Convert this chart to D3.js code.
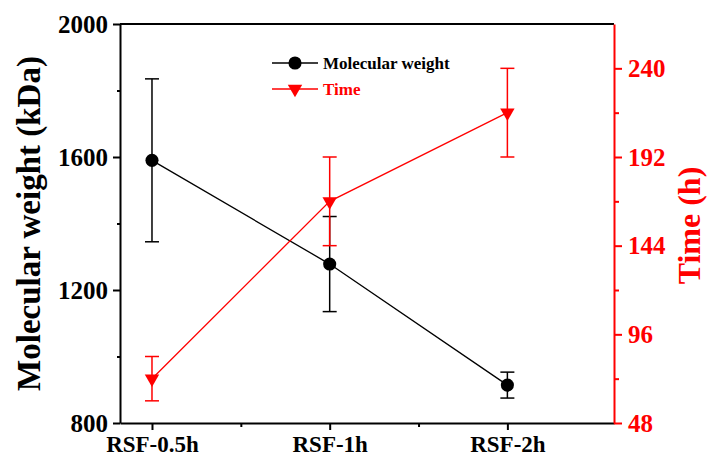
<!DOCTYPE html>
<html>
<head>
<meta charset="utf-8">
<script src="https://cdn.jsdelivr.net/npm/d3@7"></script>
<style>
  body { margin: 0; background: #fff; }
  text { font-family: "Liberation Serif", "Times New Roman", serif; font-weight: bold; }
</style>
</head>
<body>
<div id="chart"></div>
<script>
// Data
var categories = ["RSF-0.5h", "RSF-1h", "RSF-2h"];
var mwValues = [1590, 1278, 914];
var mwErrors = [245, 143, 39];
var timeValues = [72, 168, 216];
var timeErrors = [12, 24, 24];
var leftTicks = [800, 1200, 1600, 2000];
var leftMinor = [1000, 1400, 1800];
var rightTicks = [48, 96, 144, 192, 240];
var rightMinor = [72, 120, 168, 216];

var svgWidth = 707;
var svgHeight = 461;
var margin = { top: 24, right: 93, bottom: 38, left: 120 };
var chartWidth = svgWidth - margin.left - margin.right;
var chartHeight = svgHeight - margin.top - margin.bottom;

var svg = d3.select("#chart")
    .append("svg")
    .attr("width", svgWidth)
    .attr("height", svgHeight);

var g = svg.append("g")
    .attr("transform", `translate(${margin.left}, ${margin.top})`);

// scales
var xScale = d3.scaleLinear()
    .domain([-0.18, 2.6])
    .range([0, chartWidth]);

var yLeft = d3.scaleLinear()
    .domain([800, 2000])
    .range([chartHeight, 0]);

var yRight = d3.scaleLinear()
    .domain([48, 264])
    .range([chartHeight, 0]);

// frame top
g.append("line")
    .attr("x1", 0).attr("x2", chartWidth)
    .attr("y1", 0).attr("y2", 0)
    .attr("stroke", "black").attr("stroke-width", 2);

// x axis
var xAxis = g.append("g")
    .attr("transform", `translate(0, ${chartHeight})`)
    .call(d3.axisBottom(xScale)
        .tickValues([0, 1, 2])
        .tickFormat(i => categories[i])
        .tickSize(7)
        .tickSizeOuter(0)
        .tickPadding(6));
xAxis.select(".domain").attr("stroke-width", 2);
xAxis.selectAll(".tick line").attr("stroke-width", 2);
xAxis.selectAll(".tick text").attr("font-size", "23px").attr("fill", "black")
    .attr("font-family", "Liberation Serif");
g.append("g")
    .attr("transform", `translate(0, ${chartHeight})`)
    .call(d3.axisBottom(xScale).tickValues([0.5, 1.5]).tickSize(4).tickFormat(""))
    .call(a => a.select(".domain").remove())
    .selectAll(".tick line").attr("stroke-width", 2);

// left axis
var leftAxis = g.append("g")
    .call(d3.axisLeft(yLeft)
        .tickValues(leftTicks)
        .tickFormat(d3.format("d"))
        .tickSize(7)
        .tickSizeOuter(0)
        .tickPadding(5));
leftAxis.select(".domain").attr("stroke-width", 2);
leftAxis.selectAll(".tick line").attr("stroke-width", 2);
leftAxis.selectAll(".tick text").attr("font-size", "25px").attr("fill", "black")
    .attr("font-family", "Liberation Serif");
g.append("g")
    .call(d3.axisLeft(yLeft).tickValues(leftMinor).tickSize(3).tickFormat(""))
    .call(a => a.select(".domain").remove())
    .selectAll(".tick line").attr("stroke-width", 2);

// right axis
var rightAxis = g.append("g")
    .attr("transform", `translate(${chartWidth}, 0)`)
    .call(d3.axisRight(yRight)
        .tickValues(rightTicks)
        .tickSize(8)
        .tickSizeOuter(0)
        .tickPadding(6));
rightAxis.select(".domain").attr("stroke", "red").attr("stroke-width", 2);
rightAxis.selectAll(".tick line").attr("stroke", "red").attr("stroke-width", 2);
rightAxis.selectAll(".tick text").attr("font-size", "25px").attr("fill", "red")
    .attr("font-family", "Liberation Serif");
g.append("g")
    .attr("transform", `translate(${chartWidth}, 0)`)
    .call(d3.axisRight(yRight).tickValues(rightMinor).tickSize(5).tickFormat(""))
    .call(a => a.select(".domain").remove())
    .selectAll(".tick line").attr("stroke", "red").attr("stroke-width", 2);

// series helper
function drawSeries(values, errors, scale, color, symbol, size, rotate) {
    var line = d3.line()
        .x((d, i) => xScale(i))
        .y(d => scale(d));
    g.append("path")
        .datum(values)
        .attr("d", line)
        .attr("fill", "none")
        .attr("stroke", color)
        .attr("stroke-width", 1.3);

    var eb = g.selectAll(null)
        .data(values)
        .enter()
        .append("g")
        .attr("stroke", color)
        .attr("stroke-width", 1.5);
    eb.append("line")
        .attr("x1", (d, i) => xScale(i)).attr("x2", (d, i) => xScale(i))
        .attr("y1", (d, i) => scale(d - errors[i]))
        .attr("y2", (d, i) => scale(d + errors[i]));
    eb.append("line")
        .attr("x1", (d, i) => xScale(i) - 7).attr("x2", (d, i) => xScale(i) + 7)
        .attr("y1", (d, i) => scale(d + errors[i]))
        .attr("y2", (d, i) => scale(d + errors[i]));
    eb.append("line")
        .attr("x1", (d, i) => xScale(i) - 7).attr("x2", (d, i) => xScale(i) + 7)
        .attr("y1", (d, i) => scale(d - errors[i]))
        .attr("y2", (d, i) => scale(d - errors[i]));

    g.selectAll(null)
        .data(values)
        .enter()
        .append("path")
        .attr("d", d3.symbol().type(symbol).size(size))
        .attr("transform", (d, i) => `translate(${xScale(i)}, ${scale(d)}) rotate(${rotate})`)
        .attr("fill", color);
}

drawSeries(mwValues, mwErrors, yLeft, "black", d3.symbolCircle, 135, 0);
drawSeries(timeValues, timeErrors, yRight, "red", d3.symbolTriangle, 90, 180);

// legend
var legendItems = [
    { label: "Molecular weight", color: "black", symbol: d3.symbolCircle, size: 135, rotate: 0 },
    { label: "Time", color: "red", symbol: d3.symbolTriangle, size: 90, rotate: 180 }
];
var legend = svg.append("g").attr("transform", "translate(272, 63)");
legendItems.forEach(function(item, i) {
    var row = legend.append("g").attr("transform", `translate(0, ${i * 26})`);
    row.append("line")
        .attr("x1", 0).attr("x2", 46)
        .attr("stroke", item.color).attr("stroke-width", 1.5);
    row.append("path")
        .attr("d", d3.symbol().type(item.symbol).size(item.size))
        .attr("transform", `translate(23, 0) rotate(${item.rotate})`)
        .attr("fill", item.color);
    row.append("text")
        .attr("x", 51).attr("y", 6)
        .attr("font-size", "17px")
        .attr("fill", item.color)
        .text(item.label);
});

// axis titles
svg.append("text")
    .attr("transform", `translate(40, ${margin.top + chartHeight / 2}) rotate(-90)`)
    .attr("text-anchor", "middle")
    .attr("font-size", "33px")
    .attr("fill", "black")
    .text("Molecular weight (kDa)");

svg.append("text")
    .attr("transform", `translate(700, ${margin.top + chartHeight / 2 + 2}) rotate(-90)`)
    .attr("text-anchor", "middle")
    .attr("font-size", "32px")
    .attr("fill", "red")
    .text("Time (h)");
</script>
</body>
</html>
